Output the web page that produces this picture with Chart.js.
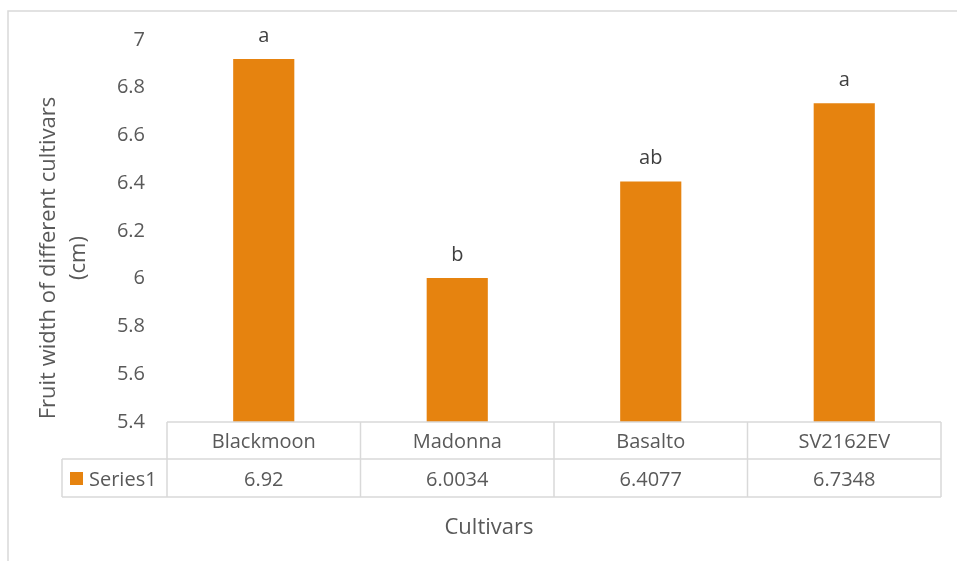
<!DOCTYPE html>
<html>
<head>
<meta charset="utf-8">
<script src="https://cdn.jsdelivr.net/npm/chart.js@4.4.1/dist/chart.umd.min.js"></script>
<style>
  html, body { margin: 0; padding: 0; background: #ffffff; }
  #wrap { width: 957px; height: 561px; position: relative; }
</style>
</head>
<body>
<div id="wrap"><canvas id="chart" width="957" height="561"></canvas></div>
<script>
// Fruit width per cultivar, with significance letters
const cultivars = ['Blackmoon', 'Madonna', 'Basalto', 'SV2162EV'];
const fruitWidth = [6.92, 6.0034, 6.4077, 6.7348];
const tableValues = ['6.92', '6.0034', '6.4077', '6.7348'];
const groupLetters = ['a', 'b', 'ab', 'a'];
const seriesName = 'Series1';
const yTitleLines = ['Fruit width of different cultivars', '(cm)'];
const xTitle = 'Cultivars';

const FONT = '"Open Sans", Lato, "Liberation Sans", sans-serif';
const BAR = '#E6830F';
const TEXT = '#595959';
const LINE = '#d9d9d9';

const tablePlugin = {
  id: 'dataTable',
  beforeDraw(chart) {
    const ctx = chart.ctx;
    ctx.save();
    ctx.fillStyle = '#ffffff';
    ctx.fillRect(0, 0, chart.width, chart.height);
    // outer chart frame
    ctx.strokeStyle = LINE;
    ctx.lineWidth = 1.5;
    ctx.strokeRect(8, 11, chart.width + 10, chart.height + 10);
    ctx.restore();
  },
  afterDatasetsDraw(chart) {
    const ctx = chart.ctx;
    const x = chart.scales.x;
    const area = chart.chartArea;
    const n = cultivars.length;
    const colW = (x.getPixelForValue(1) - x.getPixelForValue(0));
    const left = x.getPixelForValue(0) - colW / 2;
    const right = x.getPixelForValue(n - 1) + colW / 2;
    const row1Top = area.bottom;
    const row1Bot = row1Top + 37;
    const row2Bot = row1Bot + 38;
    const legendLeft = 62;

    ctx.save();
    ctx.strokeStyle = LINE;
    ctx.lineWidth = 1.5;
    ctx.beginPath();
    // horizontal rules
    ctx.moveTo(left, row1Top); ctx.lineTo(right, row1Top);
    ctx.moveTo(legendLeft, row1Bot); ctx.lineTo(right, row1Bot);
    ctx.moveTo(legendLeft, row2Bot); ctx.lineTo(right, row2Bot);
    // vertical rules
    ctx.moveTo(legendLeft, row1Bot); ctx.lineTo(legendLeft, row2Bot);
    for (let i = 0; i <= n; i++) {
      const xx = left + i * colW;
      ctx.moveTo(xx, row1Top); ctx.lineTo(xx, row2Bot);
    }
    ctx.stroke();

    ctx.font = '20px ' + FONT;
    ctx.fillStyle = TEXT;
    ctx.textAlign = 'center';
    ctx.textBaseline = 'alphabetic';
    for (let i = 0; i < n; i++) {
      const cx = x.getPixelForValue(i);
      ctx.fillText(cultivars[i], cx, row1Top + 26);
      ctx.fillText(tableValues[i], cx, row1Bot + 27);
    }
    // legend key
    ctx.fillStyle = BAR;
    ctx.fillRect(70, 472, 13, 13);
    ctx.fillStyle = TEXT;
    ctx.textAlign = 'left';
    ctx.fillText(seriesName, 89, row1Bot + 27);

    // significance letters above bars
    const meta = chart.getDatasetMeta(0);
    ctx.fillStyle = '#404040';
    ctx.textAlign = 'center';
    ctx.font = '20px ' + FONT;
    meta.data.forEach((bar, i) => {
      ctx.fillText(groupLetters[i], bar.x, bar.y - 17);
    });

    // axis titles
    ctx.fillStyle = TEXT;
    ctx.font = '22px ' + FONT;
    ctx.fillText(xTitle, 489, 534);
    ctx.translate(0, 258);
    ctx.rotate(-Math.PI / 2);
    ctx.fillText(yTitleLines[0], 0, 55);
    ctx.fillText(yTitleLines[1], 0, 85);
    ctx.restore();
  }
};

new Chart(document.getElementById('chart'), {
  type: 'bar',
  data: {
    labels: cultivars,
    datasets: [{
      label: seriesName,
      data: fruitWidth,
      backgroundColor: BAR,
      borderWidth: 0,
      categoryPercentage: 1,
      barPercentage: 0.316
    }]
  },
  options: {
    responsive: false,
    animation: false,
    layout: { padding: { left: 0, right: 16, top: 40, bottom: 139 } },
    plugins: { legend: { display: false }, tooltip: { enabled: false } },
    scales: {
      x: { display: false },
      y: {
        min: 5.4,
        max: 7,
        grid: { display: false, drawTicks: false },
        border: { display: false },
        ticks: {
          stepSize: 0.2,
          padding: 22,
          color: TEXT,
          font: { family: FONT, size: 20 },
          callback: v => String(Number(v.toFixed(1)))
        },
        afterFit(scale) { scale.width = 167; }
      }
    }
  },
  plugins: [tablePlugin]
});
</script>
</body>
</html>
